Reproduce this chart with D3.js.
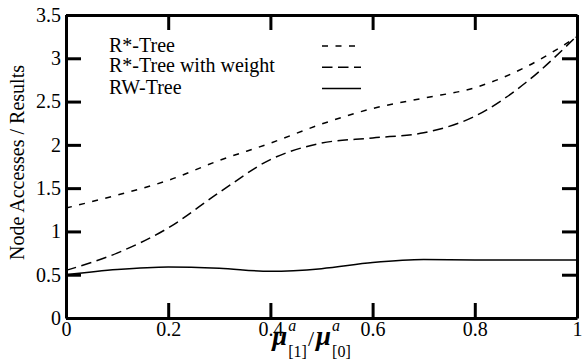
<!DOCTYPE html>
<meta charset="utf-8">
<body style="margin:0;background:#fff">
<script src="https://cdn.jsdelivr.net/npm/d3@7"></script>
<script>
// chart size and margins
var margin = {top: 15, right: 7, bottom: 46, left: 66},
  width = 584 - margin.left - margin.right,
  height = 364 - margin.top - margin.bottom;

// data
var xs = [0, 0.1, 0.2, 0.3, 0.4, 0.5, 0.6, 0.7, 0.8, 0.9, 1];
var rstar = [1.27, 1.42, 1.59, 1.82, 2.02, 2.24, 2.42, 2.54, 2.66, 2.90, 3.25];
var rstarWeight = [0.55, 0.75, 1.04, 1.45, 1.83, 2.02, 2.08, 2.14, 2.33, 2.72, 3.26];
var rwTree = [0.50, 0.56, 0.59, 0.575, 0.54, 0.57, 0.64, 0.675, 0.67, 0.67, 0.67];
var seriesNames = ["R*-Tree", "R*-Tree with weight", "RW-Tree"];
var xTicks = [0, 0.2, 0.4, 0.6, 0.8, 1];
var yTicks = [0, 0.5, 1, 1.5, 2, 2.5, 3, 3.5];

var dashes = ["6,7.5", "10.5,5.5", null];
var font = "'Liberation Serif'";

var svg = d3.select("body").append("svg")
    .attr("width", 584)
    .attr("height", 364);

var g = svg.append("g")
    .attr("transform", "translate(" + margin.left + "," + margin.top + ")");

var x = d3.scaleLinear().domain([0, 1]).range([0, width]);
var y = d3.scaleLinear().domain([0, 3.5]).range([height, 0]);

// curves
var line = d3.line()
    .x(function(d) { return x(d[0]); })
    .y(function(d) { return y(d[1]); })
    .curve(d3.curveMonotoneX);

[rstar, rstarWeight, rwTree].forEach(function(vals, i) {
  g.append("path")
    .datum(xs.map(function(v, j) { return [v, vals[j]]; }))
    .attr("fill", "none")
    .attr("stroke", "#000")
    .attr("stroke-width", 1.5)
    .attr("stroke-dasharray", dashes[i])
    .attr("d", line);
});

// axes, ticks inward on all four sides
function styleAxis(sel) {
  sel.select(".domain").attr("stroke-width", 3);
  sel.selectAll(".tick line").attr("stroke-width", 3);
  sel.selectAll("text").style("font-family", font).style("font-size", "20px").attr("fill", "#000");
}

g.append("g")
    .attr("transform", "translate(0," + height + ")")
    .call(d3.axisBottom(x).tickValues(xTicks).tickSizeInner(-15).tickSizeOuter(0).tickPadding(4)
      .tickFormat(function(d) { return d3.format("")(d); }))
    .call(styleAxis);

g.append("g")
    .call(d3.axisTop(x).tickValues(xTicks).tickSizeInner(-15).tickSizeOuter(0).tickFormat(""))
    .call(styleAxis);

g.append("g")
    .call(d3.axisLeft(y).tickValues(yTicks).tickSizeInner(-15).tickSizeOuter(0).tickPadding(5)
      .tickFormat(function(d) { return d3.format("")(d); }))
    .call(styleAxis);

g.append("g")
    .attr("transform", "translate(" + width + ",0)")
    .call(d3.axisRight(y).tickValues(yTicks).tickSizeInner(-15).tickSizeOuter(0).tickFormat(""))
    .call(styleAxis);

// legend: samples evenly spaced, labels placed as in the original
var legend = g.append("g");
var labelY = [37, 57, 78.5];
seriesNames.forEach(function(name, i) {
  var ly = 31 + i * 21.3;
  legend.append("text")
    .attr("x", 43)
    .attr("y", labelY[i])
    .style("font-family", font)
    .style("font-size", "20px")
    .text(name);
  legend.append("line")
    .attr("x1", 256).attr("x2", i == 0 ? 289 : 295)
    .attr("y1", ly).attr("y2", ly)
    .attr("stroke", "#000")
    .attr("stroke-width", 1.5)
    .attr("stroke-dasharray", dashes[i]);
});

// y axis title
svg.append("text")
    .attr("transform", "translate(24," + (margin.top + height / 2 - 4) + ") rotate(-90)")
    .attr("text-anchor", "middle")
    .style("font-family", font)
    .style("font-size", "20px")
    .text("Node Accesses / Results");

// x axis title: mu[1]^a / mu[0]^a
var xt = svg.append("g");
var cx = 0, base = 345;
function piece(txt, size, style, weight, dy) {
  var t = xt.append("text")
    .attr("x", cx).attr("y", base + dy)
    .style("font-family", font)
    .style("font-size", size + "px")
    .style("font-style", style)
    .style("font-weight", weight)
    .text(txt);
  return t.node().getComputedTextLength();
}
function muPart(sub) {
  cx += piece("\u03bc", 27, "italic", "bold", 0) + 1;
  var w1 = piece("a", 16, "italic", "normal", -14);
  var w2 = piece(sub, 16, "normal", "normal", 12);
  cx += Math.max(w1, w2) + 1;
}
muPart("[1]");
cx += piece("/", 22, "normal", "normal", 1) + 2;
muPart("[0]");
xt.attr("transform", "translate(" + (312 - cx / 2) + ",0)");
</script>
</body>
